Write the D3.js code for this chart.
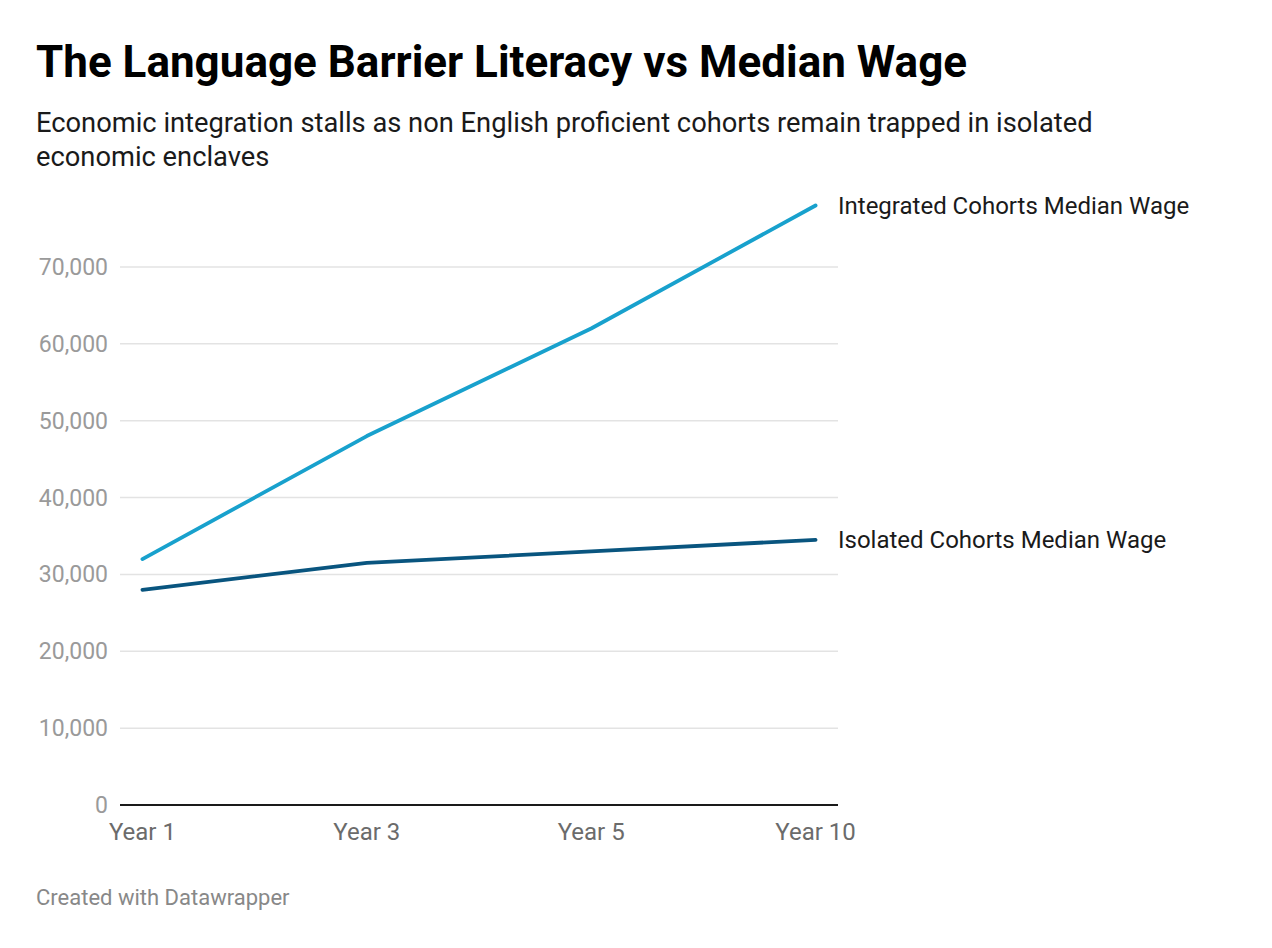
<!DOCTYPE html>
<html>
<head>
<meta charset="utf-8">
<script src="https://cdn.jsdelivr.net/npm/d3@7"></script>
<style>
  body { margin: 0; background: #fff; font-family: Roboto, "Noto Sans", sans-serif; }
</style>
</head>
<body>
<div id="chart"></div>
<script>
const width = 1272, height = 948;

const years = ["Year 1", "Year 3", "Year 5", "Year 10"];
const integratedWage = [32000, 48000, 62000, 78000];
const isolatedWage = [28000, 31500, 33000, 34500];
const yTicks = [0, 10000, 20000, 30000, 40000, 50000, 60000, 70000];

const series = [
    { name: "Integrated Cohorts Median Wage", values: integratedWage, color: "#18a1cd" },
    { name: "Isolated Cohorts Median Wage", values: isolatedWage, color: "#09557f" }
];

const svg = d3.select("#chart")
    .append("svg")
    .attr("width", width)
    .attr("height", height)
    .style("background", "#ffffff");

// Titel und Untertitel
svg.append("text")
    .attr("x", 36).attr("y", 77)
    .text("The Language Barrier Literacy vs Median Wage")
    .attr("font-size", "44px")
    .attr("font-weight", "bold")
    .attr("fill", "#000");

const subtitle = svg.append("text")
    .attr("font-size", "27.3px")
    .attr("fill", "#1a1a1a");
subtitle.append("tspan").attr("x", 36).attr("y", 132)
    .text("Economic integration stalls as non English proficient cohorts remain trapped in isolated");
subtitle.append("tspan").attr("x", 36).attr("y", 166)
    .text("economic enclaves");

const left = 120, right = 838;
const x = d3.scalePoint()
    .domain(years)
    .range([left, right])
    .padding(0.1);

const y = d3.scaleLinear()
    .domain([0, 70000])
    .range([805, 267]);

// Gitterlinien
svg.append("g")
    .selectAll("line")
    .data(yTicks.filter(t => t > 0))
    .enter()
    .append("line")
    .attr("x1", left).attr("x2", right)
    .attr("y1", d => y(d)).attr("y2", d => y(d))
    .attr("stroke", "#e3e3e3")
    .attr("stroke-width", 1.5);

// Y-Achsenbeschriftung
svg.append("g")
    .selectAll("text")
    .data(yTicks)
    .enter()
    .append("text")
    .attr("x", 108)
    .attr("y", d => y(d) + 8)
    .attr("text-anchor", "end")
    .attr("font-size", "23px")
    .attr("fill", "#9a9a9a")
    .text(d => d3.format(",")(d));

// Nulllinie
svg.append("line")
    .attr("x1", left).attr("x2", right)
    .attr("y1", y(0)).attr("y2", y(0))
    .attr("stroke", "#1a1a1a")
    .attr("stroke-width", 2);

// X-Achse
svg.append("g")
    .selectAll("text")
    .data(years)
    .enter()
    .append("text")
    .attr("x", d => x(d))
    .attr("y", 840)
    .attr("text-anchor", "middle")
    .attr("font-size", "24px")
    .attr("fill", "#6b6b6b")
    .text(d => d);

// Linien
const line = d3.line()
    .x((d, i) => x(years[i]))
    .y(d => y(d));

svg.append("g")
    .selectAll("path")
    .data(series)
    .enter()
    .append("path")
    .attr("d", d => line(d.values))
    .attr("fill", "none")
    .attr("stroke", d => d.color)
    .attr("stroke-width", 3.8)
    .attr("stroke-linecap", "round")
    .attr("stroke-linejoin", "round");

// Linienbeschriftungen
svg.append("g")
    .selectAll("text")
    .data(series)
    .enter()
    .append("text")
    .attr("x", right)
    .attr("y", d => y(d.values[d.values.length - 1]) + 8)
    .attr("font-size", "24px")
    .attr("fill", "#1a1a1a")
    .text(d => d.name);

// Fußzeile
svg.append("text")
    .attr("x", 36).attr("y", 905)
    .attr("font-size", "22px")
    .attr("fill", "#888")
    .text("Created with Datawrapper");
</script>
</body>
</html>
